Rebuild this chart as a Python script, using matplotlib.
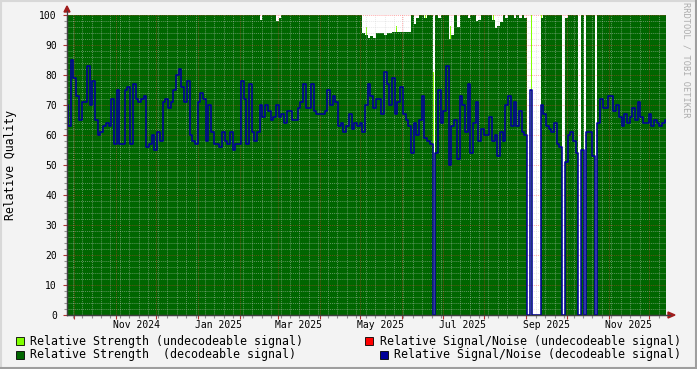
import numpy as np
import pandas as pd
import matplotlib
matplotlib.use("Agg")
import matplotlib.pyplot as plt
import matplotlib.dates as mdates
from matplotlib.ticker import MultipleLocator, NullFormatter
from matplotlib.patches import Rectangle, Polygon
from matplotlib.lines import Line2D

plt.rcParams['font.family'] = ['DejaVu Sans Mono']

# one sample every 2 days
start = pd.Timestamp("2024-09-25 14:00")
end = pd.Timestamp("2025-12-13 12:00")

# relative signal/noise (decodeable signal)
snr = [
    70, 63, 85, 79, 73, 65, 71, 71, 83, 70,
    78, 65, 60, 61, 63, 64, 63, 72, 57, 75,
    57, 57, 75, 76, 57, 77, 72, 71, 72, 73,
    56, 57, 60, 55, 61, 58, 71, 72, 69, 71,
    75, 80, 82, 76, 71, 78, 60, 58, 57, 71,
    74, 72, 58, 70, 61, 57, 57, 56, 61, 58,
    57, 61, 55, 57, 57, 78, 72, 57, 77, 61,
    58, 61, 70, 66, 70, 68, 65, 66, 70, 66,
    67, 64, 68, 68, 65, 65, 69, 71, 77, 69,
    69, 77, 68, 67, 67, 67, 68, 75, 70, 73,
    71, 63, 64, 61, 63, 67, 62, 64, 63, 64,
    61, 70, 77, 73, 69, 72, 72, 67, 81, 77,
    70, 79, 67, 71, 76, 67, 65, 63, 54, 64,
    60, 65, 73, 59, 58, 57, 0, 54, 75, 64,
    68, 83, 50, 63, 65, 52, 73, 70, 61, 77,
    54, 64, 71, 58, 62, 60, 60, 66, 58, 60,
    53, 61, 58, 70, 73, 63, 71, 63, 68, 61,
    60, 0, 75, 0, 0, 0, 70, 67, 63, 62,
    61, 64, 57, 56, 0, 51, 60, 61, 58, 54,
    0, 55, 0, 61, 61, 53, 0, 64, 72, 69,
    69, 73, 73, 68, 70, 66, 63, 67, 64, 66,
    69, 65, 71, 66, 64, 64, 67, 63, 65, 64,
    63, 64, 65,
]

# relative strength (decodeable signal)
strength = [
    100, 100, 100, 100, 100, 100, 100, 100, 100, 100,
    100, 100, 100, 100, 100, 100, 100, 100, 100, 100,
    100, 100, 100, 100, 100, 100, 100, 100, 100, 100,
    100, 100, 100, 100, 100, 100, 100, 100, 100, 100,
    100, 100, 100, 100, 100, 100, 100, 100, 100, 100,
    100, 100, 100, 100, 100, 100, 100, 100, 100, 100,
    100, 100, 100, 100, 100, 100, 100, 100, 100, 100,
    100, 100, 98.5, 100, 100, 100, 100, 100, 98, 99,
    100, 100, 100, 100, 100, 100, 100, 100, 100, 100,
    100, 100, 100, 100, 100, 100, 100, 100, 100, 100,
    100, 100, 100, 100, 100, 100, 100, 100, 100, 100,
    94, 93.5, 92.5, 93, 92.5, 94, 94, 94, 93.5, 94,
    94, 94.5, 94.5, 94.5, 94.3, 94.3, 94.3, 94.3, 100, 97,
    99, 100, 100, 99, 100, 100, 0, 100, 99, 100,
    100, 100, 92, 93.3, 100, 96, 100, 100, 100, 99,
    100, 100, 98, 98.5, 100, 100, 100, 100, 98.3, 95.6,
    96.5, 97.8, 100, 98.9, 100, 100, 99, 100, 99, 100,
    99, 0, 0, 0, 0, 0, 99, 100, 100, 100,
    100, 100, 100, 100, 0, 99, 100, 100, 100, 100,
    0, 100, 0, 100, 100, 100, 0, 100, 100, 100,
    100, 100, 100, 100, 100, 100, 100, 100, 100, 100,
    100, 100, 100, 100, 100, 100, 100, 100, 100, 100,
    100, 100, 100,
]

# relative strength (undecodeable signal), stacked on top
strength_undec = [
    0, 0, 0, 0, 0, 0, 0, 0, 0, 0,
    0, 0, 0, 0, 0, 0, 0, 0, 0, 0,
    0, 0, 0, 0, 0, 0, 0, 0, 0, 0,
    0, 0, 0, 0, 0, 0, 0, 0, 0, 0,
    0, 0, 0, 0, 0, 0, 0, 0, 0, 0,
    0, 0, 0, 0, 0, 0, 0, 0, 0, 0,
    0, 0, 0, 0, 0, 0, 0, 0, 0, 0,
    0, 0, 0, 0, 0, 0, 0, 0, 0, 0,
    0, 0, 0, 0, 0, 0, 0, 0, 0, 0,
    0, 0, 0, 0, 0, 0, 0, 0, 0, 0,
    0, 0, 0, 0, 0, 0, 0, 0, 0, 0,
    0, 2.5, 0, 0, 0, 0, 0, 0, 0, 0,
    0, 0, 2, 0, 0, 0, 0, 0, 0, 0,
    0, 0, 0, 1, 0, 0, 81, 0, 0, 0,
    0, 0, 4.5, 0, 0, 0, 0, 0, 0, 0,
    0, 0, 0, 0, 0, 0, 0, 0, 1.7, 0,
    0, 0, 0, 0, 0, 0, 0, 0, 0, 0,
    0, 0, 100, 0, 0, 0, 1, 0, 0, 0,
    0, 0, 0, 0, 0, 0, 0, 0, 0, 0,
    0, 0, 0, 0, 0, 0, 0, 0, 0, 0,
    0, 0, 0, 0, 0, 0, 0, 0, 0, 0,
    0, 0, 0, 0, 0, 0, 0, 0, 0, 0,
    0, 0, 0,
]

label_months = ["2024-11", "2025-01", "2025-03", "2025-05", "2025-07", "2025-09", "2025-11"]
legend_labels = [
    "Relative Strength (undecodeable signal)",
    "Relative Signal/Noise (undecodeable signal)",
    "Relative Strength  (decodeable signal)",
    "Relative Signal/Noise (decodeable signal)",
]
legend_colors = ["#80ff00", "#ff0000", "#006600", "#000099"]

W, H = 697, 369
fig = plt.figure(figsize=(W / 100, H / 100), dpi=100)
fig.patch.set_facecolor("#f3f3f3")

# plot area in pixels: x 66.7..666, y 15..315
ax = fig.add_axes([66.7 / W, 1 - 315 / H, (666 - 66.7) / W, 300 / H])
ax.set_facecolor("white")

dates = pd.date_range(start, periods=len(snr), freq="2D")
x = mdates.date2num(dates.to_pydatetime())
dec = np.array(strength, dtype=float)
und = np.array(strength_undec, dtype=float)

ax.fill_between(x, 0, dec, step="mid", color="#006600", linewidth=0, zorder=1)
ax.bar(x, und, bottom=dec, width=0.75, color="#80ff00", linewidth=0, zorder=1.5)
ax.plot(x, snr, drawstyle="steps-mid", color="#000099", lw=1.15, zorder=4)

ax.xaxis_date()
ax.set_xlim(mdates.date2num(start.to_pydatetime()), mdates.date2num(end.to_pydatetime()))
ax.set_ylim(0, 100)

# grid: weekly / monthly and every 2 / 10 units, drawn over the areas
ax.xaxis.set_major_locator(mdates.MonthLocator())
ax.xaxis.set_minor_locator(mdates.WeekdayLocator(byweekday=mdates.MO))
ax.xaxis.set_major_formatter(NullFormatter())
ax.yaxis.set_major_locator(MultipleLocator(10))
ax.yaxis.set_minor_locator(MultipleLocator(2))
ax.set_axisbelow(False)
ax.grid(which="minor", color="#d0d0d0", alpha=0.45, linestyle=(0, (1, 1)), lw=0.7)
ax.grid(which="major", color="#ff3030", alpha=0.4, linestyle=(0, (1, 1)), lw=0.7)

ax.tick_params(axis="both", which="major", length=3, width=0.8, color="#b03030")
ax.tick_params(axis="both", which="minor", length=2, width=0.8, color="#909090")
ax.tick_params(axis="y", which="major", labelsize=7, pad=4)

for s in ["top", "right"]:
    ax.spines[s].set_visible(False)
for s in ["left", "bottom"]:
    ax.spines[s].set_color("#404040")
    ax.spines[s].set_linewidth(0.9)

# month labels centred in the middle of the month
trans = ax.get_xaxis_transform()
for m in label_months:
    t = pd.Timestamp(m + "-01") + pd.Timedelta(days=15)
    lab = pd.Timestamp(m + "-01").strftime("%b %Y")
    ax.text(mdates.date2num(t.to_pydatetime()), -0.017, lab, transform=trans,
            ha="center", va="top", fontsize=7, clip_on=False)

# axis arrows
def px(xp, yp):
    return (xp / W, 1 - yp / H)

fig.add_artist(Line2D([px(66.7, 0)[0]] * 2, [px(0, 315)[1], px(0, 11)[1]], color="#404040", lw=0.9))
fig.add_artist(Line2D([px(66.7, 0)[0], px(670, 0)[0]], [px(0, 315)[1]] * 2, color="#404040", lw=0.9))
fig.add_artist(Polygon([px(64, 12), px(70, 12), px(67, 6)], closed=True, color="#a01c1c",
                       transform=fig.transFigure))
fig.add_artist(Polygon([px(668, 312), px(668, 318), px(675, 315)], closed=True, color="#a01c1c",
                       transform=fig.transFigure))

fig.text(11 / W, 1 - 165 / H, "Relative Quality", rotation=90, ha="center", va="center", fontsize=8.3)
fig.text(686 / W, 1 - 60 / H, "RRDTOOL / TOBI OETIKER", rotation=270, ha="center", va="center",
         fontsize=6.2, color="#acacac")

# legend
legend_pos = [(15.5, 30, 341), (365, 380, 341), (15.5, 30, 354.5), (380, 394, 354.5)]
for (bx, tx, ty), lab, col in zip(legend_pos, legend_labels, legend_colors):
    fig.add_artist(Rectangle(px(bx, ty + 4), 8 / W, 8 / H, facecolor=col, edgecolor="black",
                             lw=0.6, transform=fig.transFigure))
    fig.text(tx / W, 1 - ty / H, lab, ha="left", va="center", fontsize=8.4)

# frame shading
fig.add_artist(Line2D([0, 1], [1 - 0.5 / H] * 2, color="#d8d8d8", lw=1.5))
fig.add_artist(Line2D([0.5 / W] * 2, [0, 1], color="#d8d8d8", lw=1.5))
fig.add_artist(Line2D([0, 1], [1 / H] * 2, color="#9e9e9e", lw=1.5))
fig.add_artist(Line2D([1 - 1 / W] * 2, [0, 1], color="#9e9e9e", lw=1.5))

fig.savefig("out.png", dpi=100, facecolor=fig.get_facecolor())
